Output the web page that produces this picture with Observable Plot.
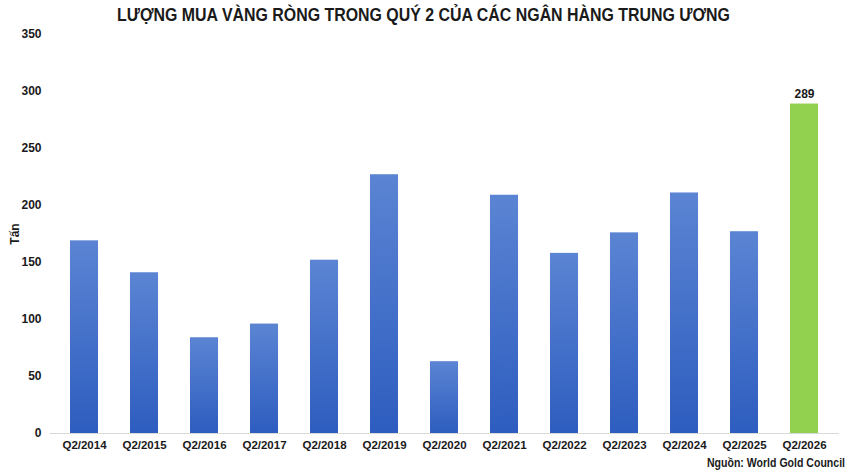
<!DOCTYPE html>
<html>
<head>
<meta charset="utf-8">
<script src="https://cdn.jsdelivr.net/npm/d3@7"></script>
<script src="https://cdn.jsdelivr.net/npm/@observablehq/plot@0.6"></script>
<style>
  html, body { margin: 0; padding: 0; background: #fff; }
  #wrap { position: relative; width: 850px; height: 474px; overflow: hidden;
          font-family: "Liberation Sans", Arial, sans-serif; }
  #title { position: absolute; top: 5px; left: 0; white-space: nowrap;
           font-weight: bold; font-size: 18px; color: #1a1a1a; transform-origin: 0 0; }
  #source { position: absolute; top: 455px; left: 0; white-space: nowrap; font-weight: bold; font-size: 13px; color: #1a1a1a; transform-origin: 0 0; }
  #chart { position: absolute; left: 0; top: 0; }
</style>
</head>
<body>
<div id="wrap">
  <div id="chart"></div>
  <div id="title">LƯỢNG MUA VÀNG RÒNG TRONG QUÝ 2 CỦA CÁC NGÂN HÀNG TRUNG ƯƠNG</div>
  <div id="source">Nguồn: World Gold Council</div>
</div>
<script>
const quarters = ["Q2/2014","Q2/2015","Q2/2016","Q2/2017","Q2/2018","Q2/2019","Q2/2020","Q2/2021","Q2/2022","Q2/2023","Q2/2024","Q2/2025","Q2/2026"];
const tonnes = [169, 141, 84, 96, 152, 227, 63, 209, 158, 176, 211, 177, 289];
const highlight = "Q2/2026";
const yTicks = [0, 50, 100, 150, 200, 250, 300, 350];

const data = quarters.map((q, i) => ({q, v: tonnes[i]}));

const defs = () => {
  const d = d3.create("svg:defs");
  const g = d.append("linearGradient").attr("id", "blueGrad")
    .attr("x1", 0).attr("y1", 0).attr("x2", 0).attr("y2", 1);
  g.append("stop").attr("offset", "0%").attr("stop-color", "#5b84d3");
  g.append("stop").attr("offset", "100%").attr("stop-color", "#2d5dbf");
  return d.node();
};

const chart = Plot.plot({
  width: 850,
  height: 474,
  marginTop: 34,
  marginBottom: 41,
  marginLeft: 50,
  marginRight: 11,
  style: {fontFamily: "'Liberation Sans', Arial, sans-serif", fontSize: "12px", fontWeight: "bold", color: "#1a1a1a", background: "transparent"},
  x: {domain: quarters, paddingInner: 0.53, paddingOuter: 0.265, label: null},
  y: {domain: [0, 350], label: "Tấn"},
  marks: [
    defs,
    Plot.axisY({ticks: yTicks, tickSize: 0, tickPadding: 9, label: "Tấn", labelAnchor: "center", labelArrow: "none", labelOffset: 40, fontWeight: "bold", fontSize: 12}),
    Plot.axisX({tickSize: 0, tickPadding: 7, label: null, fontWeight: "bold", fontSize: 11.5}),
    Plot.barY(data.filter(d => d.q !== highlight), {x: "q", y: "v", fill: "url(#blueGrad)"}),
    Plot.barY(data.filter(d => d.q === highlight), {x: "q", y: "v", fill: "#92d050"}),
    Plot.ruleY([0], {stroke: "#d9d9d9", strokeWidth: 1}),
    Plot.text(data.filter(d => d.q === highlight), {x: "q", y: "v", text: d => String(d.v), dy: -10, fontWeight: "bold", fontSize: 12, fill: "#1a1a1a"})
  ]
});
document.getElementById("chart").appendChild(chart);

// Condense the HTML texts horizontally to mimic the narrow font of the original
function fit(el, left, right) {
  const w = el.getBoundingClientRect().width;
  const s = (right - left) / w;
  el.style.left = left + "px";
  el.style.transform = `scaleX(${s})`;
}
fit(document.getElementById("title"), 117, 730);
fit(document.getElementById("source"), 707, 845);
</script>
</body>
</html>
